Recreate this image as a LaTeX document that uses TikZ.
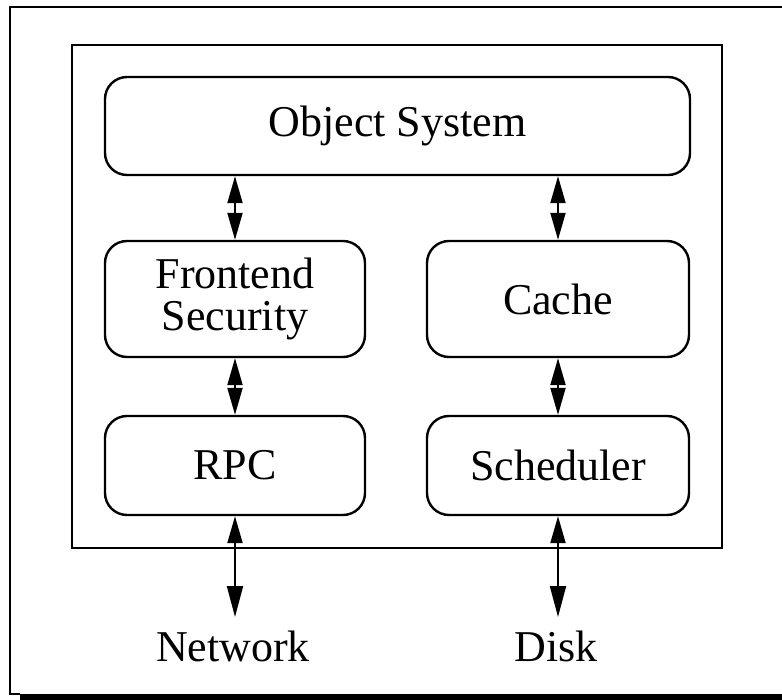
\documentclass[tikz,border=0pt]{standalone}
\usepackage{fontspec}
\setmainfont{Liberation Serif}
\usetikzlibrary{arrows.meta}
\begin{document}
\begin{tikzpicture}[x=1pt,y=-1pt,
  blk/.style={draw,line width=2.4pt,rounded corners=22pt,inner sep=0pt,align=center,
    font=\fontsize{44}{42}\selectfont},
  lbl/.style={inner sep=0pt,anchor=base,font=\fontsize{44}{42}\selectfont},
  dbl/.style={line width=2pt,{Triangle[length=27pt,width=15pt]}-{Triangle[length=27pt,width=15pt]}},
  dblong/.style={line width=2pt,{Triangle[length=27pt,width=15pt]}-{Triangle[length=31pt,width=16pt]}}]
\useasboundingbox (0,0) rectangle (782,700);
% outer frame with shadow
\draw[line width=1.8pt] (800,7) -- (10,7) -- (10,694) -- (20,694);
\fill (20,693.5) rectangle (800,705);
% inner frame
\draw[line width=2.2pt] (72,45) rectangle (722,548);
% blocks
\node[blk,minimum width=585pt,minimum height=98pt] (obj) at (397.5,126) {Object System};
\node[blk,minimum width=260pt,minimum height=116pt] (fe) at (235,299) {Frontend\\Security};
\node[blk,minimum width=262pt,minimum height=116pt] (cache) at (558,299) {Cache};
\node[blk,minimum width=260pt,minimum height=99pt] (rpc) at (235,465.5) {RPC};
\node[blk,minimum width=262pt,minimum height=99pt] (sched) at (558,465.5) {Scheduler};
% labels
\node[lbl] (net) at (233,661) {Network};
\node[lbl] (disk) at (556,661) {Disk};
\coordinate (netend) at (235,617);
\coordinate (diskend) at (558,617);
% connectors
\draw[dbl] (fe.north |- obj.south) -- (fe.north);
\draw[dbl] (cache.north |- obj.south) -- (cache.north);
\draw[dbl] (fe.south) -- (rpc.north);
\draw[dbl] (cache.south) -- (sched.north);
\draw[dblong] (rpc.south) -- (netend);
\draw[dblong] (sched.south) -- (diskend);
\end{tikzpicture}
\end{document}
